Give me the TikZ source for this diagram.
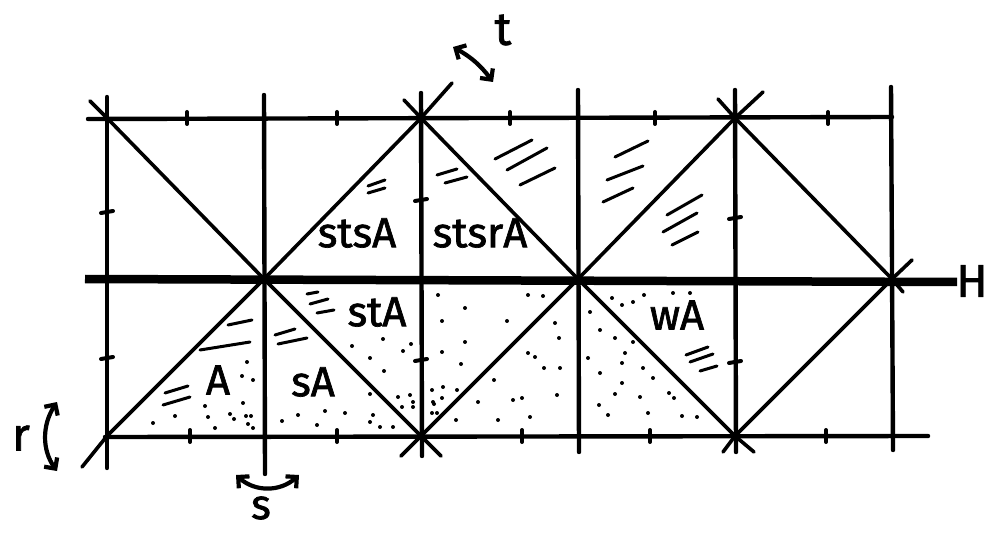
\documentclass[tikz,border=0pt]{standalone}
\usepackage{fontspec}
\setmainfont{Fira Sans}
\newfontfamily\labfont{Fira Sans}[BoldFont={Fira Sans},BoldFeatures={FakeBold=1.6}]
\usetikzlibrary{arrows.meta}
\begin{document}
\begin{tikzpicture}[x=1pt,y=-1pt,
  gridline/.style={line width=4.4pt,line cap=round},
  hline/.style={line width=8.5pt},
  diag/.style={line width=3.6pt,line cap=round,line join=round},
  tickmark/.style={line width=4pt,line cap=round},
  hatch/.style={line width=3pt,line cap=round},
  lab/.style={font=\labfont\bfseries\fontsize{42}{42}\selectfont,inner sep=0pt},
  glab/.style={font=\labfont\bfseries\fontsize{46}{46}\selectfont,inner sep=0pt},
  dotc/.style={fill=black},
  gen/.style={line width=4.2pt,line cap=round,{Straight Barb[length=8pt,width=16pt]}-{Straight Barb[length=8pt,width=16pt]}}
]
\useasboundingbox (0,0) rectangle (987,534);

% grid points
\foreach \n/\x in {a/107,b/264,c/421,d/578,e/735,f/892}{
  \coordinate (\n1) at (\x,118);
  \coordinate (\n2) at (\x,279);
  \coordinate (\n3) at (\x,436);
}
% vertical line ends
\coordinate (aT) at (107,97);  \coordinate (aB) at (107,468);
\coordinate (bT) at (264,95);  \coordinate (bB) at (265,474);
\coordinate (cT) at (421,93);  \coordinate (cB) at (422,456);
\coordinate (dT) at (578,90);  \coordinate (dB) at (579,452);
\coordinate (eT) at (735,90);  \coordinate (eB) at (736,452);
\coordinate (fT) at (891,87);  \coordinate (fB) at (893,450);
% horizontal line ends
\coordinate (topL) at (88,119); \coordinate (topR) at (892,117);
\coordinate (HL) at (85,279);   \coordinate (HR) at (957,282);
\coordinate (botL) at (105,437); \coordinate (botR) at (928,436);

% verticals
\foreach \n in {a,b,c,d,e,f}{ \draw[gridline] (\n T) -- (\n B); }
% horizontals
\draw[gridline] (topL) -- (topR);
\draw[gridline] (botL) -- (botR);
\draw[hline] (HL) -- (HR);

% diagonals
\coordinate (L1s) at (90,101);  \coordinate (L1e) at (441,456);
\coordinate (L2s) at (82,467);  \coordinate (L2e) at (452,83);
\coordinate (L3s) at (404,100); \coordinate (L3e) at (754,452);
\coordinate (L4s) at (401,456); \coordinate (L4e) at (763,92);
\coordinate (L5s) at (718,99);  \coordinate (L5e) at (903,292);
\coordinate (L6s) at (723,452); \coordinate (L6e) at (912,260);
\draw[diag] (L1s) -- (a1) -- (b2) -- (c3) -- (L1e);
\draw[diag] (L2s) -- (a3) -- (b2) -- (c1) -- (L2e);
\draw[diag] (L3s) -- (c1) -- (d2) -- (e3) -- (L3e);
\draw[diag] (L4s) -- (c3) -- (d2) -- (e1) -- (L4e);
\draw[diag] (L5s) -- (e1) -- (f2) -- (L5e);
\draw[diag] (L6s) -- (e3) -- (f2) -- (L6e);

% ticks on horizontal lines
\foreach \x in {187,337,510,655,828}{ \draw[tickmark] (\x,112) -- (\x,124); }
\foreach \x in {190,337,522,650,826}{ \draw[tickmark] (\x,430) -- (\x,442); }
% ticks on vertical lines
\foreach \x/\y in {107/212,107/358,421/200,421/360,735/218,735/362}{
  \draw[tickmark] (\x-6,\y+1) -- (\x+6,\y-1); }

% hatch marks
\foreach \xa/\ya/\xb/\yb in {
  307/294/318/292, 310/304/328/299, 317/313/334/310,
  228/325/252/320, 200/350/250/342, 165/393/188/386, 163/405/190/397,
  275/335/295/329, 278/344/307/338,
  368/186/385/180, 368/193/385/188,
  437/175/457/169, 445/183/467/177,
  495/159/532/140, 507/170/547/148, 520/185/555/168,
  615/157/648/141, 607/180/643/166, 603/202/633/188,
  667/215/702/195, 663/232/697/213, 672/245/698/232,
  686/355/708/347, 690/362/713/354, 700/371/717/366}{
  \draw[hatch] (\xa,\ya) -- (\xb,\yb); }

% stipple dots
\foreach \x/\y in {
  247/362, 253/380, 242/376, 243/403, 205/406, 153/423, 175/416, 208/417,
  230/414, 234/419, 246/416, 251/416, 215/428, 248/424, 253/428,
  282/421, 298/415, 317/425, 325/411, 345/413, 373/415, 370/422, 380/427,
  393/427, 370/394,
  383/339, 352/346, 370/358, 403/351, 411/344, 384/371, 398/397, 410/395,
  413/402, 402/407, 413/407,
  438/295, 465/308, 442/321, 465/342, 442/352, 461/364, 432/390, 434/404,
  437/413, 456/420, 443/387, 433/402, 442/398, 432/413,
  528/295, 543/296, 507/321, 555/323, 559/338, 528/353, 535/357, 544/368,
  560/368, 494/380, 522/398, 513/400, 478/402, 557/395, 530/417, 498/420,
  457/390,
  612/298, 622/305, 633/302, 644/295, 673/293, 690/293, 590/312, 600/330,
  615/338, 633/342, 625/353, 588/358, 622/363, 643/368, 653/378, 600/373,
  622/383, 615/394, 640/397, 669/393, 674/398, 599/405, 608/415, 648/413,
  682/416, 697/417}{
  \fill[dotc] (\x,\y) circle (2pt); }

% chamber labels
\node[lab] (lA)     at (218,380) {A};
\node[lab] (lsA)    at (313,382) {sA};
\node[lab] (lstA)   at (377,312) {stA};
\node[lab] (lstsA)  at (357,233) {stsA};
\node[lab] (lstsrA) at (480,233) {stsrA};
\node[lab] (lwA)    at (677,315) {wA};
\node[glab] (lH)    at (972,281) {H};

% generators
\coordinate (t1) at (453,47); \coordinate (t2) at (493,82);
\draw[gen] (t1) to[bend left=12] (t2);
\node[glab] (lt) at (503,30) {t};

\coordinate (s1) at (236,475); \coordinate (s2) at (299,475);
\draw[gen] (s1) .. controls (255,492) and (280,492) .. (s2);
\node[lab] (ls) at (261,508) {s};

\coordinate (r1) at (57,402); \coordinate (r2) at (57,471);
\draw[gen] (r1) .. controls (42,425) and (42,450) .. (r2);
\node[glab] (lr) at (21,438) {r};
\end{tikzpicture}
\end{document}
